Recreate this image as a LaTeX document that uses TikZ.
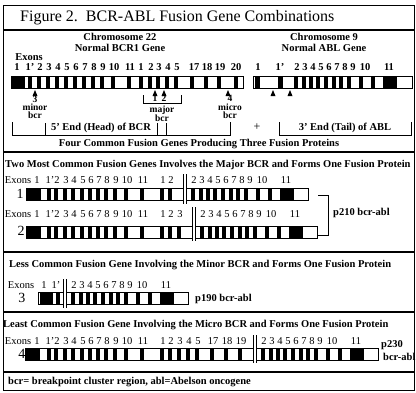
\documentclass[tikz,border=0pt]{standalone}
\usepackage{fontspec}
\setmainfont{Liberation Serif}
\usetikzlibrary{positioning}
% exon labels shared by the fusion rows (BCR side)
\newcommand\bcrfront{37/1,50/1',57/2,66/3,74/4,83/5,91/6,99/7,107/8,116/9,127/10,143/11,163/1,171/2}
\newcommand\bcrstripes{49,56,65,73,82,90,98,106,115,126,142,162,170}
\begin{document}
\begin{tikzpicture}[x=1pt, y=-1pt,
  gene/.style={draw, line width=0.7pt},
  sep/.style={line width=1.5pt},
  junc/.style={line width=0.6pt},
  bigtxt/.style={font=\fontsize{16}{18}\selectfont, inner sep=0pt},
  head/.style={font=\fontsize{10.5}{12}\selectfont\bfseries, inner sep=0pt},
  exn/.style={font=\fontsize{10.5}{12}\selectfont, inner sep=0pt},
  exnb/.style={font=\fontsize{10.5}{12}\selectfont\bfseries, inner sep=0pt},
  bptxt/.style={font=\fontsize{9.5}{10}\selectfont\bfseries, inner sep=0pt},
  rowlbl/.style={font=\fontsize{14}{16}\selectfont, inner sep=0pt}
]
  \useasboundingbox (0,0) rectangle (416,392);
  \draw[line width=1pt] (3,5) rectangle (414,390);

  % title and section rules
  \node[bigtxt, anchor=west] (title) at (20,18) {Figure 2.\ \ BCR-ABL Fusion Gene Combinations};
  \foreach \y in {30,152,252,312,372}
    \draw[sep] (3,\y) -- (414,\y);

  % normal genes
  \node[head] (chr22) at (120,37) {Chromosome 22};
  \node[head] (bcrgene) at (120,48) {Normal BCR1 Gene};
  \node[head] (chr9) at (324,37) {Chromosome 9};
  \node[head] (ablgene) at (324,48) {Normal ABL Gene};

  \node[exnb] (exons0) at (29,57) {Exons};
  \foreach \x/\t [count=\i] in {17/1,30/1',40/2,49/3,58/4,67/5,76/6,85/7,94/8,103/9,114/10,130/11,
      141/1,151/2,159/3,168/4,177/5,194/17,207/18,220/19,236/20}
    \node[exnb] (bcrx\i) at (\x,67) {\t};
  \fill (12,76) rectangle (25,88);
  \foreach \x in {30,39,48,57,66,75,84,93,102,113,129,141,150,158,167,176,192,206,219,236}
    \fill (\x-2,76) rectangle (\x+2,88);
  \draw[gene] (11,76) rectangle (243,88);

  \node[exnb] (ablx1) at (258,67) {1};
  \node[exnb] (ablx2) at (280,67) {1'};
  \foreach \d/\t in {7/2,15/3,23/4,31/5,39/6,47/7,55/8,63/9,75/10,99/11}
    \node[exnb] (ablx-\t) at (290+\d,67) {\t};
  \fill (255,76) rectangle (260,88);
  \fill (278,76) rectangle (283,88);
  \foreach \d in {6,14,21,28,36,44,51,59,71,83}
    \fill (290+\d-2,76) rectangle (290+\d+2,88);
  \fill (383,76) rectangle (397,88);
  \draw[gene] (253,76) rectangle (412,88);

  % breakpoints
  \foreach \x in {35,155,164,228,273,290}
    \fill (\x-2.5,96) -- (\x+2.5,96) -- (\x,90) -- cycle;
  \node[bptxt] (minnum) at (35,99) {3};
  \node[bptxt] (minlbl) at (35,107) {minor};
  \node[bptxt] (minbcr) at (35,115) {bcr};
  \node[bptxt] (majnum1) at (155,98) {1};
  \node[bptxt] (majnum2) at (164,98) {2};
  \draw (143,95) -- (143,103) -- (181,103) -- (181,95);
  \node[bptxt] (majlbl) at (162,110) {major};
  \node[bptxt] (majbcr) at (162,118) {bcr};
  \node[bptxt] (micnum) at (230,98) {4};
  \node[bptxt] (miclbl) at (230,107) {micro};
  \node[bptxt] (micbcr) at (230,115) {bcr};

  % heads and tails
  \draw (12,122) -- (12,135) -- (230,135) -- (230,122);
  \foreach \x in {45,157,166}
    \draw (\x,123) -- (\x,135);
  \node[head] (head5) at (101,128) {5' End (Head) of BCR};
  \node[font=\fontsize{12}{12}\selectfont, inner sep=0pt] (plus) at (257,127) {+};
  \draw (279,122) -- (279,135) -- (411,135) -- (411,122);
  \node[head] (tail3) at (345,128) {3' End (Tail) of ABL};
  \node[head] (four) at (199,144) {Four Common Fusion Genes Producing Three Fusion Proteins};

  % fusion headings
  \node[head, anchor=west] (major) at (5,165) {Two Most Common Fusion Genes Involves the Major BCR and Forms One Fusion Protein};
  \node[head, anchor=west] (minor) at (9,265) {Less Common Fusion Gene Involving the Minor BCR and Forms One Fusion Protein};
  \node[head, anchor=west] (micro) at (3,325) {Least Common Fusion Gene Involving the Micro BCR and Forms One Fusion Protein};
  \node[head, anchor=west] (note) at (8,382) {bcr= breakpoint cluster region, abl=Abelson oncogene};

  % fusion 1 and 2 (major bcr)
  \node[rowlbl] (row1) at (20,194) {1};
  \node[exn] (exons1) at (18,180) {Exons};
  \foreach \x/\t in \bcrfront
    \node[exn] (f1x\x) at (\x,180) {\t};
  \fill (27,188) rectangle (41,200);
  \foreach \x in \bcrstripes
    \fill (\x-2,188) rectangle (\x+2,200);
  \draw[gene] (26,188) rectangle (183,200);

  \node[rowlbl] (row2) at (21,231) {2};
  \node[exn] (exons2) at (18,214) {Exons};
  \foreach \x/\t in \bcrfront
    \node[exn] (f2x\x) at (\x,214) {\t};
  \node[exn] (f2x180) at (180,214) {3};
  \fill (27,226) rectangle (41,238);
  \foreach \x in \bcrstripes
    \fill (\x-2,226) rectangle (\x+2,238);
  \fill (179-2,226) rectangle (179+2,238);
  \draw[gene] (26,226) rectangle (192,238);

  \draw (318,195) -- (328,195) -- (328,235) -- (318,235);
  \node[head, anchor=west] (p210) at (333,213) {p210 bcr-abl};

  % fusion 3 (minor bcr)
  \node[rowlbl] (row3) at (22,298) {3};
  \node[exn] (exons3) at (21,285) {Exons};
  \node[exn] (f3x1) at (44,285) {1};
  \node[exn] (f3x2) at (56,285) {1'};
  \fill (40,292) rectangle (53,304);
  \fill (56,292) rectangle (60,304);
  \draw[gene] (38,292) rectangle (63,304);
  \node[head, anchor=west] (p190) at (195,299) {p190 bcr-abl};

  % fusion 4 (micro bcr)
  \node[rowlbl] (row4) at (22,354) {4};
  \node[exn] (exons4) at (18,341) {Exons};
  \foreach \x/\t in \bcrfront
    \node[exn] (f4x\x) at (\x,341) {\t};
  \foreach \x/\t in {180/3,189/4,198/5,213/17,227/18,241/19}
    \node[exn] (f4x\x) at (\x,341) {\t};
  \fill (26,348) rectangle (40,360);
  \foreach \x in \bcrstripes
    \fill (\x-2,348) rectangle (\x+2,360);
  \foreach \x in {179,188,197,212,226,240}
    \fill (\x-2,348) rectangle (\x+2,360);
  \draw[gene] (25,348) rectangle (253,360);
  \node[head] (p230) at (392,345) {p230};
  \node[head, anchor=west] (p230b) at (383,357) {bcr-abl};

  % ABL side of every fusion gene, with the junction
  \foreach \s/\t/\l/\a/\b in {187/188/180/174/204, 196/226/214/207/241, 67/292/285/279/308, 257/348/341/335/363} {
    \foreach \d/\n in {7/2,15/3,23/4,31/5,39/6,47/7,55/8,63/9,75/10,99/11}
      \node[exn] (a\s-\n) at (\s+\d,\l) {\n};
    \foreach \d in {6,14,21,28,36,44,51,59,71,83}
      \fill (\s+\d-2,\t) rectangle (\s+\d+2,\t+12);
    \fill (\s+93,\t) rectangle (\s+107,\t+12);
    \draw[gene] (\s-1,\t) rectangle (\s+121,\t+12);
    \draw[junc] (\s-4,\a) -- (\s-4,\b);
    \draw[junc] (\s-1,\a) -- (\s-1,\b);
  }
\end{tikzpicture}
\end{document}
